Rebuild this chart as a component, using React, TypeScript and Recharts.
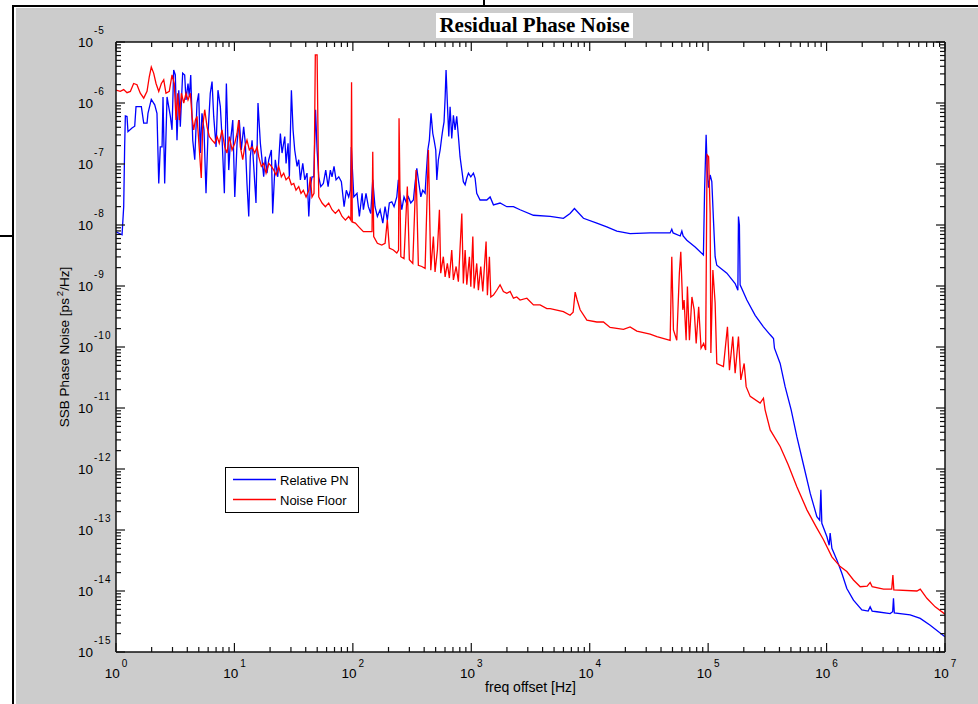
import React from "react"
import { CartesianGrid, Legend, Line, LineChart, XAxis, YAxis } from "recharts"

// points as [log10 freq offset (Hz), log10 SSB phase noise (ps^2/Hz)]
const relativePn: Array<[number, number]> = [
  [0, -8.11], [0.051, -8.16], [0.065, -7.7], [0.073, -6.72], [0.079, -6.21], [0.093, -6.22], [0.101, -6.47],
  [0.135, -6.41], [0.158, -6.38], [0.169, -6.06], [0.214, -6.06], [0.234, -6.33], [0.262, -6.33], [0.27, -6.17],
  [0.298, -5.94], [0.327, -6.03], [0.346, -6.17], [0.361, -7.32], [0.374, -6.72], [0.389, -6.72], [0.397, -5.9],
  [0.411, -7.32], [0.431, -5.9], [0.459, -6.22], [0.473, -6.44], [0.487, -5.46], [0.501, -5.54], [0.515, -6.61],
  [0.53, -5.79], [0.543, -6.39], [0.563, -5.51], [0.58, -5.54], [0.591, -5.95], [0.608, -5.68], [0.619, -5.9],
  [0.631, -5.54], [0.648, -6.61], [0.665, -6.93], [0.684, -6.0], [0.698, -5.84], [0.712, -6.82], [0.726, -6.17],
  [0.743, -6.44], [0.76, -7.48], [0.777, -6.5], [0.796, -5.84], [0.811, -5.65], [0.825, -6.22], [0.845, -6.72],
  [0.861, -5.79], [0.881, -6.06], [0.895, -6.55], [0.915, -7.48], [0.932, -5.68], [0.952, -7.1], [0.965, -6.66],
  [0.986, -6.28], [1.003, -7.54], [1.022, -6.66], [1.041, -6.28], [1.058, -6.77], [1.078, -6.39], [1.092, -6.66],
  [1.106, -7.32], [1.121, -7.86], [1.134, -6.88], [1.149, -6.61], [1.163, -7.04], [1.182, -7.64], [1.199, -6.0],
  [1.219, -6.66], [1.233, -6.93], [1.247, -7.21], [1.261, -6.88], [1.275, -7.15], [1.29, -6.93], [1.312, -6.77],
  [1.323, -7.81], [1.345, -6.93], [1.366, -7.21], [1.388, -6.5], [1.402, -6.82], [1.425, -6.55], [1.436, -6.99],
  [1.453, -6.66], [1.464, -7.21], [1.481, -5.79], [1.495, -6.44], [1.509, -6.77], [1.529, -7.04], [1.543, -6.93],
  [1.557, -7.26], [1.577, -6.99], [1.594, -7.26], [1.613, -7.15], [1.628, -7.86], [1.641, -7.37], [1.655, -7.21],
  [1.67, -7.21], [1.685, -6.11], [1.698, -6.77], [1.712, -7.21], [1.729, -7.37], [1.751, -7.32], [1.771, -7.1],
  [1.791, -7.37], [1.81, -7.1], [1.824, -7.21], [1.841, -7.04], [1.858, -7.26], [1.881, -7.21], [1.903, -7.29],
  [1.926, -7.7], [1.945, -7.43], [1.965, -7.54], [1.979, -7.43], [1.987, -6.72], [2.008, -7.54], [2.035, -7.48],
  [2.055, -7.86], [2.078, -7.48], [2.089, -7.75], [2.111, -7.48], [2.131, -7.7], [2.151, -7.81], [2.168, -7.26],
  [2.187, -7.7], [2.207, -7.86], [2.23, -7.75], [2.253, -7.97], [2.272, -7.7], [2.291, -7.92], [2.308, -7.64],
  [2.329, -7.62], [2.348, -7.7], [2.371, -7.54], [2.384, -7.26], [2.399, -7.54], [2.413, -7.75], [2.432, -7.54],
  [2.449, -7.62], [2.469, -7.54], [2.489, -7.64], [2.511, -7.59], [2.525, -7.32], [2.54, -7.07], [2.553, -7.26],
  [2.574, -7.54], [2.59, -7.43], [2.61, -7.48], [2.618, -7.21], [2.633, -6.77], [2.646, -6.61], [2.66, -6.17],
  [2.675, -6.5], [2.686, -6.61], [2.7, -6.77], [2.709, -7.26], [2.722, -6.93], [2.737, -6.77], [2.751, -6.55],
  [2.759, -6.44], [2.77, -6.31], [2.779, -5.92], [2.787, -5.46], [2.798, -6.0], [2.81, -6.55], [2.821, -6.06],
  [2.835, -6.58], [2.849, -6.2], [2.863, -6.44], [2.877, -6.22], [2.894, -6.61], [2.905, -6.88], [2.92, -7.1],
  [2.933, -7.29], [2.948, -7.34], [2.962, -7.23], [2.976, -7.15], [2.996, -7.21], [3.018, -7.15], [3.032, -7.23],
  [3.046, -7.48], [3.074, -7.59], [3.131, -7.59], [3.159, -7.54], [3.187, -7.67], [3.243, -7.64], [3.3, -7.7],
  [3.356, -7.7], [3.412, -7.75], [3.525, -7.84], [3.666, -7.86], [3.778, -7.89], [3.834, -7.81], [3.871, -7.73],
  [3.947, -7.89], [4.06, -7.97], [4.144, -8.03], [4.229, -8.1], [4.341, -8.14], [4.51, -8.13], [4.679, -8.13],
  [4.693, -8.07], [4.704, -8.13], [4.764, -8.18], [4.778, -8.1], [4.789, -8.18], [4.82, -8.25], [4.89, -8.36],
  [4.96, -8.49], [4.97, -7.43], [4.983, -6.52], [4.992, -7.1], [5.003, -7.39], [5.017, -7.18], [5.031, -7.29],
  [5.045, -7.92], [5.059, -8.52], [5.073, -8.66], [5.158, -8.79], [5.228, -8.96], [5.251, -9.07], [5.256, -7.86],
  [5.264, -8.0], [5.27, -8.98], [5.327, -9.23], [5.397, -9.48], [5.467, -9.67], [5.524, -9.8], [5.552, -9.86],
  [5.56, -10.02], [5.608, -10.27], [5.65, -10.65], [5.701, -11.03], [5.749, -11.47], [5.805, -11.93], [5.862, -12.4],
  [5.918, -12.78], [5.942, -12.84], [5.952, -12.34], [5.96, -12.89], [6.003, -13.11], [6.022, -13.25], [6.03, -13.05],
  [6.045, -13.3], [6.087, -13.49], [6.129, -13.71], [6.171, -13.96], [6.227, -14.15], [6.298, -14.31], [6.351, -14.33],
  [6.368, -14.26], [6.385, -14.33], [6.425, -14.34], [6.537, -14.37], [6.558, -14.34], [6.565, -14.12], [6.572, -14.36],
  [6.706, -14.39], [6.791, -14.45], [6.875, -14.56], [7.0, -14.75],
]

const noiseFloor: Array<[number, number]> = [
  [0, -5.79], [0.036, -5.81], [0.065, -5.78], [0.093, -5.83], [0.121, -5.81], [0.149, -5.68], [0.177, -5.7],
  [0.205, -5.84], [0.234, -5.92], [0.262, -5.81], [0.281, -5.57], [0.298, -5.41], [0.318, -5.51], [0.338, -5.68],
  [0.361, -5.81], [0.383, -5.68], [0.403, -5.62], [0.422, -5.84], [0.45, -5.81], [0.473, -5.54], [0.492, -5.68],
  [0.507, -6.28], [0.521, -5.84], [0.535, -6.28], [0.552, -5.84], [0.572, -6.0], [0.591, -5.84], [0.608, -5.95],
  [0.628, -5.84], [0.642, -6.22], [0.656, -6.44], [0.67, -6.28], [0.684, -6.22], [0.704, -6.77], [0.72, -7.23],
  [0.732, -6.39], [0.749, -6.11], [0.769, -6.39], [0.788, -6.55], [0.811, -6.61], [0.834, -6.66], [0.853, -6.55],
  [0.872, -6.66], [0.895, -6.44], [0.918, -6.72], [0.937, -6.82], [0.957, -6.55], [0.98, -6.77], [1.003, -6.66],
  [1.022, -6.5], [1.036, -6.28], [1.05, -6.72], [1.07, -6.93], [1.087, -6.72], [1.106, -6.61], [1.126, -6.77],
  [1.149, -6.72], [1.171, -6.82], [1.191, -6.72], [1.205, -6.88], [1.227, -7.04], [1.247, -6.99], [1.267, -7.15],
  [1.29, -6.99], [1.312, -7.04], [1.332, -7.1], [1.351, -7.18], [1.374, -7.04], [1.396, -7.21], [1.416, -7.15],
  [1.436, -7.26], [1.459, -7.21], [1.481, -7.34], [1.501, -7.32], [1.52, -7.43], [1.543, -7.37], [1.562, -7.48],
  [1.582, -7.43], [1.605, -7.54], [1.628, -7.43], [1.641, -7.21], [1.655, -7.54], [1.672, -7.48], [1.683, -5.21],
  [1.698, -5.21], [1.712, -7.54], [1.74, -7.64], [1.768, -7.7], [1.796, -7.64], [1.824, -7.75], [1.852, -7.81],
  [1.881, -7.75], [1.909, -7.86], [1.937, -7.92], [1.965, -7.86], [1.983, -7.92], [1.989, -5.66], [1.995, -7.95],
  [2.021, -7.97], [2.05, -8.03], [2.089, -8.11], [2.117, -8.11], [2.145, -8.11], [2.162, -8.11], [2.168, -6.8],
  [2.176, -8.19], [2.207, -8.3], [2.244, -8.33], [2.272, -8.3], [2.291, -7.92], [2.308, -8.38], [2.342, -8.41],
  [2.371, -8.46], [2.386, -8.41], [2.39, -6.25], [2.405, -8.52], [2.432, -8.55], [2.46, -7.37], [2.477, -8.57],
  [2.506, -8.63], [2.534, -7.1], [2.553, -8.66], [2.582, -8.68], [2.61, -8.71], [2.638, -6.77], [2.658, -8.74],
  [2.68, -8.19], [2.694, -8.77], [2.714, -8.41], [2.731, -7.75], [2.742, -8.79], [2.764, -8.52], [2.779, -8.85],
  [2.798, -8.63], [2.815, -8.87], [2.835, -8.41], [2.849, -8.9], [2.872, -8.68], [2.891, -8.93], [2.92, -7.81],
  [2.933, -8.96], [2.948, -8.41], [2.962, -8.98], [2.984, -8.52], [2.996, -9.01], [3.013, -8.19], [3.024, -9.04],
  [3.046, -8.63], [3.06, -9.07], [3.08, -8.68], [3.097, -9.09], [3.125, -8.27], [3.136, -9.15], [3.153, -8.52],
  [3.165, -9.18], [3.187, -9.15], [3.215, -9.07], [3.243, -8.98], [3.271, -9.09], [3.3, -9.12], [3.328, -9.09],
  [3.356, -9.2], [3.384, -9.18], [3.412, -9.23], [3.469, -9.2], [3.525, -9.31], [3.581, -9.31], [3.638, -9.37],
  [3.666, -9.37], [3.778, -9.42], [3.834, -9.48], [3.86, -9.43], [3.877, -9.1], [3.894, -9.23], [3.919, -9.39],
  [3.976, -9.56], [4.06, -9.59], [4.116, -9.59], [4.172, -9.68], [4.285, -9.71], [4.341, -9.67], [4.398, -9.74],
  [4.51, -9.79], [4.567, -9.83], [4.679, -9.89], [4.693, -8.52], [4.707, -9.72], [4.735, -9.89], [4.757, -8.79],
  [4.769, -8.44], [4.786, -9.39], [4.797, -9.23], [4.814, -9.89], [4.825, -9.01], [4.842, -9.89], [4.863, -9.18],
  [4.882, -9.39], [4.899, -9.94], [4.92, -9.34], [4.94, -10.02], [4.962, -9.94], [4.979, -10.05], [4.991, -6.85],
  [5.004, -6.88], [5.017, -7.81], [5.023, -10.1], [5.04, -8.74], [5.059, -9.28], [5.073, -10.27], [5.129, -10.32],
  [5.163, -9.67], [5.18, -10.38], [5.208, -9.83], [5.228, -10.43], [5.256, -9.83], [5.276, -10.54], [5.304, -10.27],
  [5.321, -10.65], [5.355, -10.81], [5.439, -10.92], [5.467, -10.84], [5.481, -11.03], [5.524, -11.36], [5.608, -11.63],
  [5.676, -11.93], [5.749, -12.29], [5.834, -12.67], [5.918, -12.97], [5.974, -13.16], [6.045, -13.44], [6.115, -13.6],
  [6.171, -13.68], [6.227, -13.82], [6.284, -13.93], [6.343, -13.92], [6.368, -13.86], [6.385, -13.93], [6.481, -13.97],
  [6.55, -13.97], [6.56, -13.74], [6.568, -13.98], [6.763, -14.0], [6.791, -13.97], [6.847, -14.12], [6.917, -14.26],
  [7.0, -14.38],
]

const xDecades = [0, 1, 2, 3, 4, 5, 6, 7]
const yDecades = [-15, -14, -13, -12, -11, -10, -9, -8, -7, -6, -5]

const seriesNames = ["Relative PN", "Noise Floor"]
const seriesColors = ["#0000ff", "#ff0000"]

const TITLE = "Residual Phase Noise"
const X_LABEL = "freq offset [Hz]"

const SANS = "'Liberation Sans', Arial, Helvetica, sans-serif"
const SERIF = "'Liberation Serif', 'Times New Roman', serif"

const toPoints = (pairs: Array<[number, number]>) =>
  pairs.map(([lf, lv]) => ({ f: Math.pow(10, lf), v: Math.pow(10, lv) }))

// log ticks: 1..9 inside every decade, plus the closing decade
const logTicks = (decades: number[]) => {
  const out: number[] = []
  decades.slice(0, -1).forEach((d) => {
    for (let m = 1; m <= 9; m++) out.push(m * Math.pow(10, d))
  })
  out.push(Math.pow(10, decades[decades.length - 1]))
  return out
}

const xTicks = logTicks(xDecades)
const yTicks = logTicks(yDecades)

const decadeOf = (v: number) => Math.round(Math.log10(v))
const isDecade = (v: number) => Math.abs(Math.log10(v) - decadeOf(v)) < 1e-6

const MAJOR = 9
const MINOR = 5
const TICK_STROKE = "#111"

function BottomTick({ x, y, payload }: any) {
  const major = isDecade(payload.value)
  return (
    <g>
      <line x1={x} y1={y} x2={x} y2={y - (major ? MAJOR : MINOR)} stroke={TICK_STROKE} strokeWidth={1.2} />
      {major && (
        <text x={x} y={y + 26} textAnchor="middle" fontSize={13.5} fontFamily={SANS} fill="#000">
          10
          <tspan dx={2} dy={-11} fontSize={10}>
            {decadeOf(payload.value)}
          </tspan>
        </text>
      )}
    </g>
  )
}

function TopTick({ x, y, payload }: any) {
  const major = isDecade(payload.value)
  return <line x1={x} y1={y} x2={x} y2={y + (major ? MAJOR : MINOR)} stroke={TICK_STROKE} strokeWidth={1.2} />
}

function LeftTick({ x, y, payload }: any) {
  const major = isDecade(payload.value)
  const exp = decadeOf(payload.value)
  return (
    <g>
      <line x1={x} y1={y} x2={x + (major ? MAJOR : MINOR)} y2={y} stroke={TICK_STROKE} strokeWidth={1.2} />
      {major && (
        <>
          <text x={x - 23} y={y + 5} textAnchor="end" fontSize={13.5} fontFamily={SANS} fill="#000">
            10
          </text>
          <text x={x - 22} y={y - 8} textAnchor="start" fontSize={10} fontFamily={SANS} fill="#000" letterSpacing={1}>
            {exp < 0 ? `-${Math.abs(exp)}` : exp}
          </text>
        </>
      )}
    </g>
  )
}

function RightTick({ x, y, payload }: any) {
  const major = isDecade(payload.value)
  return <line x1={x} y1={y} x2={x - (major ? MAJOR : MINOR)} y2={y} stroke={TICK_STROKE} strokeWidth={1.2} />
}

function YTitle(props: any) {
  const vb = props.viewBox ?? { x: 56, y: 42, width: 60, height: 610 }
  const cx = vb.x + 13
  const cy = vb.y + vb.height / 2
  return (
    <text
      x={cx}
      y={cy}
      transform={`rotate(-90, ${cx}, ${cy})`}
      textAnchor="middle"
      fontSize={13.5}
      fontFamily={SANS}
      fill="#000"
    >
      SSB Phase Noise [ps
      <tspan dx={2} dy={-6} fontSize={9.5}>
        2
      </tspan>
      <tspan dy={6}>/Hz]</tspan>
    </text>
  )
}

function XTitle(props: any) {
  const vb = props.viewBox ?? { x: 116, y: 652, width: 829, height: 30 }
  return (
    <text
      x={vb.x + vb.width / 2}
      y={vb.y + 40}
      textAnchor="middle"
      fontSize={14}
      fontFamily={SANS}
      fill="#000"
    >
      {X_LABEL}
    </text>
  )
}

// legend keeps the plotting order (Relative PN first)
function LegendBox(props: any) {
  const colorOf = (name: string, i: number) => {
    const hit = (props.payload || []).find((p: any) => p.value === name)
    return hit && hit.color ? hit.color : seriesColors[i]
  }
  return (
    <svg width={134} height={46} style={{ display: "block" }}>
      <rect x={0.5} y={0.5} width={133} height={45} fill="#fff" stroke="#000" strokeWidth={1} />
      {seriesNames.map((name, i) => (
        <g key={name}>
          <line x1={8} x2={51} y1={12.5 + i * 20} y2={12.5 + i * 20} stroke={colorOf(name, i)} strokeWidth={1.3} />
          <text x={55} y={18 + i * 20} fontSize={13} fontFamily={SANS} fill="#000">
            {name}
          </text>
        </g>
      ))}
    </svg>
  )
}

export default function App() {
  const blue = toPoints(relativePn)
  const red = toPoints(noiseFloor)

  return (
    <div style={{ position: "absolute", left: 0, top: 0, width: 978, height: 704, background: "#fff", overflow: "hidden" }}>
      {/* figure background */}
      <div style={{ position: "absolute", left: 16, top: 8, right: 0, bottom: 0, background: "#cccccc" }} />
      {/* page frame lines around the figure */}
      <div style={{ position: "absolute", left: 12, top: 5, width: 966, height: 2, background: "#000" }} />
      <div style={{ position: "absolute", left: 12, top: 5, width: 2, height: 699, background: "#000" }} />
      <div style={{ position: "absolute", left: 0, top: 235, width: 14, height: 1.5, background: "#000" }} />
      <div style={{ position: "absolute", left: 483, top: 0, width: 1.5, height: 6, background: "#000" }} />

      <div style={{ position: "absolute", left: 0, top: 0 }}>
        <LineChart width={978} height={704} margin={{ top: 32, right: 23, bottom: 22, left: 56 }}>
          <CartesianGrid fill="#ffffff" horizontal={false} vertical={false} />
          <XAxis
            dataKey="f"
            type="number"
            scale="log"
            domain={[xTicks[0], xTicks[xTicks.length - 1]]}
            allowDataOverflow
            ticks={xTicks}
            interval={0}
            height={30}
            tickSize={0}
            tickMargin={0}
            tickLine={false}
            axisLine={{ stroke: "#111", strokeWidth: 1.5 }}
            tick={<BottomTick />}
            label={<XTitle />}
          />
          <XAxis
            xAxisId="top"
            orientation="top"
            dataKey="f"
            type="number"
            scale="log"
            domain={[xTicks[0], xTicks[xTicks.length - 1]]}
            allowDataOverflow
            ticks={xTicks}
            interval={0}
            height={10}
            tickSize={0}
            tickMargin={0}
            tickLine={false}
            axisLine={{ stroke: "#111", strokeWidth: 1.5 }}
            tick={<TopTick />}
          />
          <YAxis
            type="number"
            scale="log"
            domain={[yTicks[0], yTicks[yTicks.length - 1]]}
            allowDataOverflow
            ticks={yTicks}
            interval={0}
            width={60}
            tickSize={0}
            tickMargin={0}
            tickLine={false}
            axisLine={{ stroke: "#111", strokeWidth: 1.5 }}
            tick={<LeftTick />}
            label={<YTitle />}
          />
          <YAxis
            yAxisId="right"
            orientation="right"
            type="number"
            scale="log"
            domain={[yTicks[0], yTicks[yTicks.length - 1]]}
            allowDataOverflow
            ticks={yTicks}
            interval={0}
            width={10}
            tickSize={0}
            tickMargin={0}
            tickLine={false}
            axisLine={{ stroke: "#111", strokeWidth: 1.5 }}
            tick={<RightTick />}
          />
          <Line
            data={blue}
            dataKey="v"
            name={seriesNames[0]}
            type="linear"
            stroke={seriesColors[0]}
            strokeWidth={1.3}
            dot={false}
            activeDot={false}
            isAnimationActive={false}
          />
          <Line
            data={red}
            dataKey="v"
            name={seriesNames[1]}
            type="linear"
            stroke={seriesColors[1]}
            strokeWidth={1.3}
            dot={false}
            activeDot={false}
            isAnimationActive={false}
          />
          <Legend
            layout="vertical"
            verticalAlign="middle"
            align="center"
            wrapperStyle={{ left: 225, top: 467, width: 134, height: 46 }}
            content={<LegendBox />}
          />
        </LineChart>
      </div>

      {/* title on its white strip */}
      <div
        style={{
          position: "absolute",
          left: 436,
          top: 13,
          width: 197,
          height: 25,
          background: "#fff",
          fontFamily: SERIF,
          fontWeight: "bold",
          fontSize: 21,
          lineHeight: "25px",
          textAlign: "center",
          color: "#000",
          whiteSpace: "nowrap",
        }}
      >
        {TITLE}
      </div>
    </div>
  )
}
